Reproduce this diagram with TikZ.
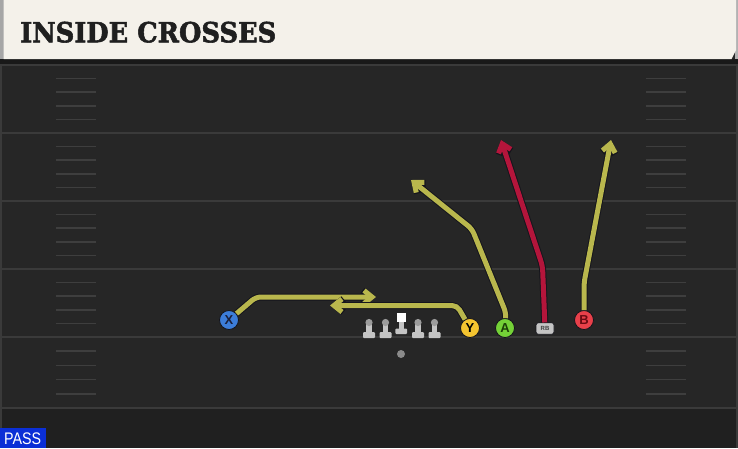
\documentclass[tikz,border=0pt]{standalone}
\usepackage{fontspec}
\setmainfont{Liberation Sans}
\newfontfamily\titlefont[BoldFeatures={FakeBold=2}]{DejaVu Serif}
\usetikzlibrary{arrows.meta}
\definecolor{fieldbg}{HTML}{262626}
\definecolor{lowbg}{HTML}{202020}
\definecolor{yardline}{HTML}{3A3A3A}
\definecolor{hashline}{HTML}{3E3E3E}
\definecolor{cream}{HTML}{F4F1EA}
\definecolor{routeyel}{HTML}{B9B74D}
\definecolor{routered}{HTML}{B4153B}
\definecolor{routeedge}{HTML}{15151C}
\definecolor{pblue}{HTML}{3C7DD9}
\definecolor{pyellow}{HTML}{F4C430}
\definecolor{pgreen}{HTML}{74D137}
\definecolor{pred}{HTML}{E8404A}
\definecolor{pgray}{HTML}{C4C4C4}
\definecolor{pgraydark}{HTML}{9C9C9C}
\definecolor{qbgray}{HTML}{8A8A8A}
\definecolor{xtext}{HTML}{1A1F3A}
\definecolor{btext}{HTML}{6A0A12}
\definecolor{atext}{HTML}{1C3F08}
\definecolor{passblue}{HTML}{0B2FD6}
\tikzset{
  routeout/.style={line width=7pt, draw=routeedge, rounded corners=5pt,
    -{Straight Barb[length=8pt,width=13pt]}},
  routein/.style={line width=5pt, draw=#1, rounded corners=5pt,
    -{Straight Barb[length=8pt,width=13pt]}},
  player/.style={circle, minimum size=19pt, inner sep=0pt, draw=routeedge,
    line width=0.8pt, fill=#1, font=\bfseries\fontsize{13}{13}\selectfont},
  hashmark/.style={draw=hashline, line width=1.6pt},
  yard/.style={draw=yardline, line width=2.2pt}
}
\newcommand\routepath[2]{\draw[routeout] #2; \draw[routein=#1] #2;}
\begin{document}
\begin{tikzpicture}[x=1pt,y=-1pt]
\useasboundingbox (0,0) rectangle (738,448);
% field
\fill[fieldbg] (0,0) rectangle (738,448);
\fill[lowbg] (0,408) rectangle (738,448);
\fill[yardline] (0,59) rectangle (2,448);
\fill[yardline] (736,59) rectangle (738,448);
% yard lines
\foreach \y in {65,133,201,269,337,408} \draw[yard] (0,\y) -- (738,\y);
% hash marks
\foreach \y in {65,133,201,269} {
  \foreach \k in {1,2,3,4} {
    \draw[hashmark] (56,\y+13.6*\k) -- (96,\y+13.6*\k);
    \draw[hashmark] (646,\y+13.6*\k) -- (686,\y+13.6*\k);
  }
}
\foreach \k in {1,2,3,4} {
  \draw[hashmark] (56,337+14.2*\k) -- (96,337+14.2*\k);
  \draw[hashmark] (646,337+14.2*\k) -- (686,337+14.2*\k);
}
% header
\fill[black!90] (0,59) rectangle (738,63.5);
\fill[gray!70] (0,0) rectangle (3.5,59);
\fill[gray!60] (735,0) rectangle (738,59);
\fill[cream] (3.5,0) -- (736,0) -- (736,50) -- (731.5,59) -- (3.5,59) -- cycle;
\node[anchor=base west, inner sep=0pt, text=black!88] (title) at (20,42.3)
  {\resizebox{256pt}{20.6pt}{\titlefont\bfseries INSIDE CROSSES}};
% PASS label
\fill[passblue] (0,428) rectangle (46,448);
\node[anchor=base west, inner sep=0pt, text=white] (pass) at (4,444.5)
  {\resizebox{37pt}{11.7pt}{PASS}};
% players
\node[player=pblue, text=xtext] (X) at (229,320) {X};
\node[player=pyellow] (Y) at (470,328) {Y};
\node[player=pgreen, text=atext] (A) at (505,328) {A};
\node[player=pred, text=btext] (B) at (584,320) {B};
\node[rectangle, rounded corners=2.5pt, fill=pgray, draw=routeedge, line width=0.6pt,
  minimum width=18pt, minimum height=11.5pt, inner sep=0pt,
  font=\bfseries\fontsize{6}{6}\selectfont, text=black!75] (RB) at (545,328.5) {RB};
\node[circle, fill=qbgray, minimum size=8pt, inner sep=0pt] (QB) at (401,354) {};
% routes
\routepath{routeyel}{(X) -- (256,297) -- (376,297)}
\routepath{routeyel}{(Y) -- (457,305.5) -- (330,305.5)}
\routepath{routeyel}{(A) -- (506,313) -- (472,229) -- (411,180)}
\routepath{routered}{(RB) -- (542.5,266) -- (501,140)}
\routepath{routeyel}{(B) -- (584,283) -- (611,140)}
% offensive line
\foreach \x in {369,385.5,418,434.5} {
  \fill[pgray] (\x-2.6,322) rectangle (\x+2.6,333);
  \fill[pgray, rounded corners=1pt] (\x-6,332) rectangle (\x+6,338);
  \fill[pgraydark] (\x,322.5) circle (3.6pt);
}
\fill[white] (397,313) rectangle (405.5,322);
\fill[pgray] (398.6,322) rectangle (403.9,329);
\fill[pgray, rounded corners=1pt] (395.3,328.5) rectangle (407.2,334);
\end{tikzpicture}
\end{document}
